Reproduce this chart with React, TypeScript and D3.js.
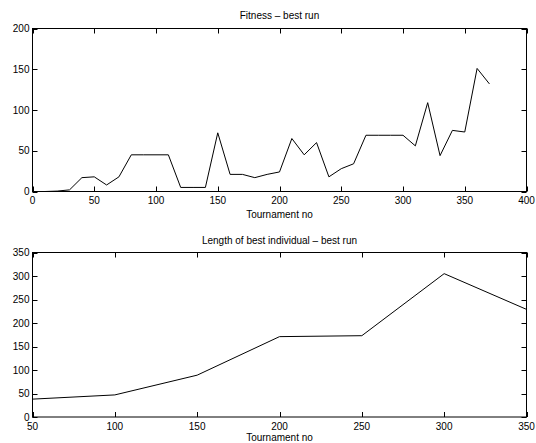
import React from "react";
import * as d3 from "d3";

const fitnessX = [10, 20, 30, 40, 50, 60, 70, 80, 90, 100, 110, 120, 130, 140, 150, 160, 170, 180, 190, 200, 210, 220, 230, 240, 250, 260, 270, 280, 290, 300, 310, 320, 330, 340, 350, 360, 370];
const fitnessY = [0, 0.5, 2, 17, 18, 8, 18, 45, 45, 45, 45, 5, 5, 5, 72, 21, 21, 17, 21, 24, 65, 45, 60, 18, 28, 34, 69, 69, 69, 69, 56, 109, 44, 75, 73, 151, 132];
const fitnessXTicks = [0, 50, 100, 150, 200, 250, 300, 350, 400];
const fitnessYTicks = [0, 50, 100, 150, 200];

const lengthX = [50, 100, 150, 200, 250, 300, 350];
const lengthY = [38, 47, 89, 171, 173, 305, 229];
const lengthXTicks = [50, 100, 150, 200, 250, 300, 350];
const lengthYTicks = [0, 50, 100, 150, 200, 250, 300, 350];

const W = 536;
const H = 443;
const FONT = "'Liberation Sans', Arial, Helvetica, sans-serif";

type PanelProps = {
  xs: number[];
  ys: number[];
  xDomain: [number, number];
  yDomain: [number, number];
  xTicks: number[];
  yTicks: number[];
  top: number;
  bottom: number;
  title: string;
  xLabel: string;
  titleBaseline: number;
  tickBaseline: number;
  labelBaseline: number;
};

function Panel(p: PanelProps) {
  const left = 32.5;
  const right = 526.5;
  const x = d3.scaleLinear().domain(p.xDomain).range([left, right]);
  const y = d3.scaleLinear().domain(p.yDomain).range([p.bottom, p.top]);
  const pts = p.xs.map((v, i) => [v, p.ys[i]] as [number, number]);
  const line = d3
    .line<[number, number]>()
    .x((d) => x(d[0]))
    .y((d) => y(d[1]));
  const tl = 5;
  return (
    <g>
      <text
        x={(left + right) / 2}
        y={p.titleBaseline}
        textAnchor="middle"
        fontSize={10}
        fontFamily={FONT}
      >
        {p.title}
      </text>
      <path d={line(pts) || ""} fill="none" stroke="#000" strokeWidth={1} />
      <rect
        x={left}
        y={p.top}
        width={right - left}
        height={p.bottom - p.top}
        fill="none"
        stroke="#000"
        strokeWidth={1}
      />
      {p.xTicks.map((t) => {
        const xx = Math.round(x(t)) + 0.5;
        return (
          <g key={"x" + t}>
            <line x1={xx} x2={xx} y1={p.bottom} y2={p.bottom - tl} stroke="#000" />
            <line x1={xx} x2={xx} y1={p.top} y2={p.top + tl} stroke="#000" />
            <text
              x={x(t)}
              y={p.tickBaseline}
              textAnchor="middle"
              fontSize={10}
              fontFamily={FONT}
            >
              {t}
            </text>
          </g>
        );
      })}
      {p.yTicks.map((t) => {
        const yy = Math.round(y(t)) + 0.5;
        return (
          <g key={"y" + t}>
            <line x1={left} x2={left + tl} y1={yy} y2={yy} stroke="#000" />
            <line x1={right} x2={right - tl} y1={yy} y2={yy} stroke="#000" />
            <text
              x={left - 3}
              y={y(t) + 3.5}
              textAnchor="end"
              fontSize={10}
              fontFamily={FONT}
            >
              {t}
            </text>
          </g>
        );
      })}
      <text
        x={(left + right) / 2}
        y={p.labelBaseline}
        textAnchor="middle"
        fontSize={10}
        fontFamily={FONT}
      >
        {p.xLabel}
      </text>
    </g>
  );
}

export default function App() {
  return (
    <svg
      width={W}
      height={H}
      style={{ position: "absolute", left: 0, top: 0, background: "#fff" }}
    >
      <rect x={0} y={0} width={W} height={H} fill="#fff" />
      <Panel
        xs={fitnessX}
        ys={fitnessY}
        xDomain={[0, 400]}
        yDomain={[0, 200]}
        xTicks={fitnessXTicks}
        yTicks={fitnessYTicks}
        top={28.5}
        bottom={191.5}
        title="Fitness – best run"
        xLabel="Tournament no"
        titleBaseline={19}
        tickBaseline={204}
        labelBaseline={217.5}
      />
      <Panel
        xs={lengthX}
        ys={lengthY}
        xDomain={[50, 350]}
        yDomain={[0, 350]}
        xTicks={lengthXTicks}
        yTicks={lengthYTicks}
        top={252.5}
        bottom={417}
        title="Length of best individual – best run"
        xLabel="Tournament no"
        titleBaseline={244}
        tickBaseline={430}
        labelBaseline={440.5}
      />
    </svg>
  );
}
